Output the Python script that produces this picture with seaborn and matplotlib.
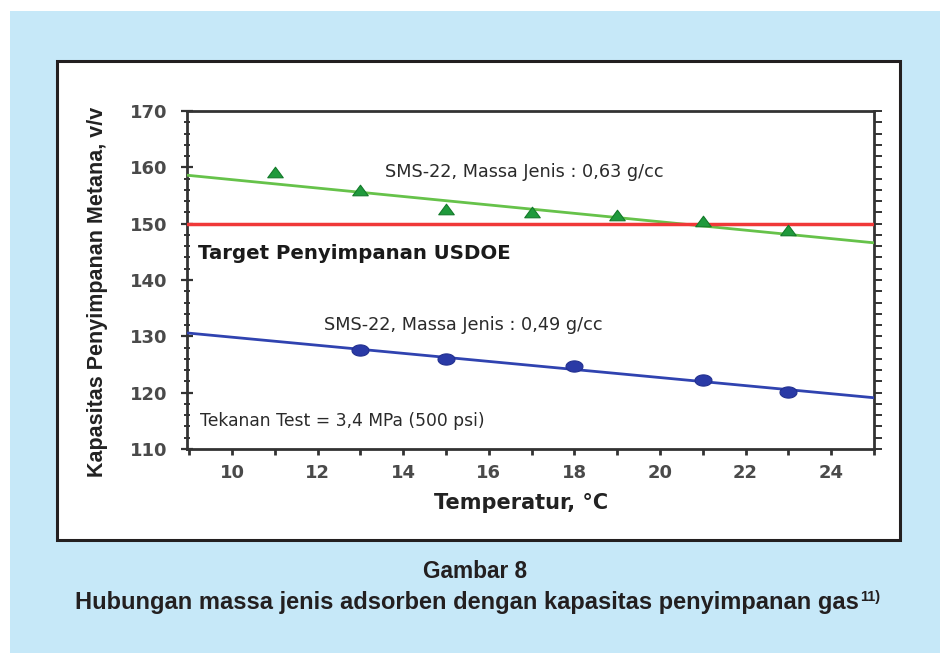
import numpy as np
import pandas as pd
import matplotlib
matplotlib.use("Agg")
import matplotlib.pyplot as plt
from matplotlib.patches import Rectangle
from matplotlib.path import Path
from matplotlib.ticker import MultipleLocator
import seaborn as sns

# ---------------- data ----------------
green_temp = [11, 13, 15, 17, 19, 21, 23]
green_cap = [159.1, 156.0, 152.6, 152.1, 151.5, 150.5, 148.8]
blue_temp = [13, 15, 18, 21, 23]
blue_cap = [127.5, 126.0, 124.7, 122.2, 120.1]
trend_temp = [8.95, 25.0]
green_trend = [158.6, 146.6]
blue_trend = [130.6, 119.1]
target_cap = [150.0, 150.0]
x_ticks = [10, 12, 14, 16, 18, 20, 22, 24]
y_ticks = [110, 120, 130, 140, 150, 160, 170]

label_green = "SMS-22, Massa Jenis : 0,63 g/cc"
label_blue = "SMS-22, Massa Jenis : 0,49 g/cc"
label_target = "Target Penyimpanan USDOE"
label_test = "Tekanan Test = 3,4 MPa (500 psi)"
xlabel = "Temperatur, °C"
ylabel = "Kapasitas Penyimpanan Metana, v/v"
cap1 = "Gambar 8"
cap2 = "Hubungan massa jenis adsorben dengan kapasitas penyimpanan gas"
cap_sup = "11)"

sns.set_theme(style="white")
plt.rcParams["font.family"] = ["Liberation Sans", "DejaVu Sans"]
WIDE = ["DejaVu Sans", "Liberation Sans"]

W, H = 940, 653
fig = plt.figure(figsize=(W / 100, H / 100), dpi=100, facecolor="white")

def fx(px):
    return px / W

def fy(py):
    return 1 - py / H

# light blue panel and white chart box
fig.patches.append(Rectangle((fx(10), 0), fx(930), 1 - 11 / H, transform=fig.transFigure,
                             facecolor="#c6e8f8", edgecolor="none", zorder=0))
fig.patches.append(Rectangle((fx(57), fy(540)), fx(900 - 57), (540 - 61) / H,
                             transform=fig.transFigure, facecolor="white",
                             edgecolor="#231f20", linewidth=2.2, zorder=1))

ax = fig.add_axes([fx(187), fy(449), fx(874 - 187), (449 - 111) / H])
ax.set_facecolor("none")
ax.set_zorder(2)
ax.set_xlim(8.95, 25.0)
ax.set_ylim(110, 170)

df_trend = pd.DataFrame({"t": trend_temp, "g": green_trend, "b": blue_trend, "r": target_cap})
sns.lineplot(data=df_trend, x="t", y="g", ax=ax, color="#66c24a", linewidth=2.0, zorder=3)
sns.lineplot(data=df_trend, x="t", y="r", ax=ax, color="#f03838", linewidth=2.5, zorder=3)
sns.lineplot(data=df_trend, x="t", y="b", ax=ax, color="#3043b0", linewidth=2.0, zorder=3)

tri = Path([(0, 0.68), (-1, -0.68), (1, -0.68), (0, 0.68)],
           [Path.MOVETO, Path.LINETO, Path.LINETO, Path.CLOSEPOLY])
th = np.linspace(0, 2 * np.pi, 40)
ell = Path(np.column_stack([np.cos(th), 0.66 * np.sin(th)]))

sns.scatterplot(x=green_temp, y=green_cap, ax=ax, marker=tri, s=125,
                color="#1f9a3c", edgecolor="#137a2a", linewidth=0.8, zorder=4)
sns.scatterplot(x=blue_temp, y=blue_cap, ax=ax, marker=ell, s=150,
                color="#2a3aa6", edgecolor="#22308f", linewidth=0.8, zorder=4)

# spines
for sp in ax.spines.values():
    sp.set_visible(True)
    sp.set_color("#333333")
    sp.set_linewidth(2.0)

ax.xaxis.set_minor_locator(MultipleLocator(1))
ax.set_xticks(x_ticks)
ax.set_yticks(y_ticks)
ax.yaxis.set_minor_locator(MultipleLocator(2))
ax.tick_params(axis="x", which="both", direction="out", length=4, width=2.0,
               color="#333333", bottom=True, top=False, labelsize=13,
               labelcolor="#4a4a4a", pad=7)
ax.tick_params(axis="y", which="major", direction="inout", length=8, width=1.6,
               color="#333333", left=True, right=False, labelsize=13,
               labelcolor="#4a4a4a", pad=10)
ax.tick_params(axis="y", which="minor", direction="inout", length=5, width=1.4,
               color="#333333", left=True, right=False)
for lab in ax.get_xticklabels() + ax.get_yticklabels():
    lab.set_family(WIDE)
    lab.set_fontweight("bold")

sec = ax.secondary_yaxis("right")
sec.set_yticks(y_ticks)
sec.yaxis.set_minor_locator(MultipleLocator(2))
sec.tick_params(axis="y", which="both", direction="out", length=6, width=1.4,
                color="#333333", labelright=False)
sec.spines["right"].set_visible(False)

ax.set_xlabel(xlabel, fontsize=15, fontweight="bold", color="#222222", family=WIDE)
ax.xaxis.set_label_coords((521.5 - 187) / 687, -(493 - 449) / 338)
ax.set_ylabel(ylabel, fontsize=15.5, fontweight="bold", color="#222222")
ax.yaxis.set_label_coords(-(187 - 108) / 687, (449 - 292) / 338)

ax.text(13.57, 159.1, label_green, fontsize=12.7, color="#2a2a2a", va="center", ha="left",
        family=WIDE)
ax.text(9.2, 144.7, label_target, fontsize=14.2, fontweight="bold", color="#1a1a1a",
        va="center", ha="left", family=WIDE)
ax.text(12.15, 132.1, label_blue, fontsize=12.7, color="#2a2a2a", va="center", ha="left",
        family=WIDE)
ax.text(9.25, 114.9, label_test, fontsize=12.3, color="#2a2a2a", va="center", ha="left",
        family=WIDE)

fig.text(fx(475), fy(572), cap1, fontsize=16.3, fontweight="bold", color="#231f20",
         ha="center", va="center")
t2 = fig.text(fx(466.5), fy(602), cap2, fontsize=17, fontweight="bold", color="#231f20",
              ha="center", va="center")
ax.annotate(cap_sup, xy=(1, 1), xycoords=t2, xytext=(1, 0), textcoords="offset points",
            fontsize=10.5, fontweight="bold", color="#231f20", ha="left", va="top",
            annotation_clip=False)

fig.savefig("out.png", dpi=100, facecolor="white")
